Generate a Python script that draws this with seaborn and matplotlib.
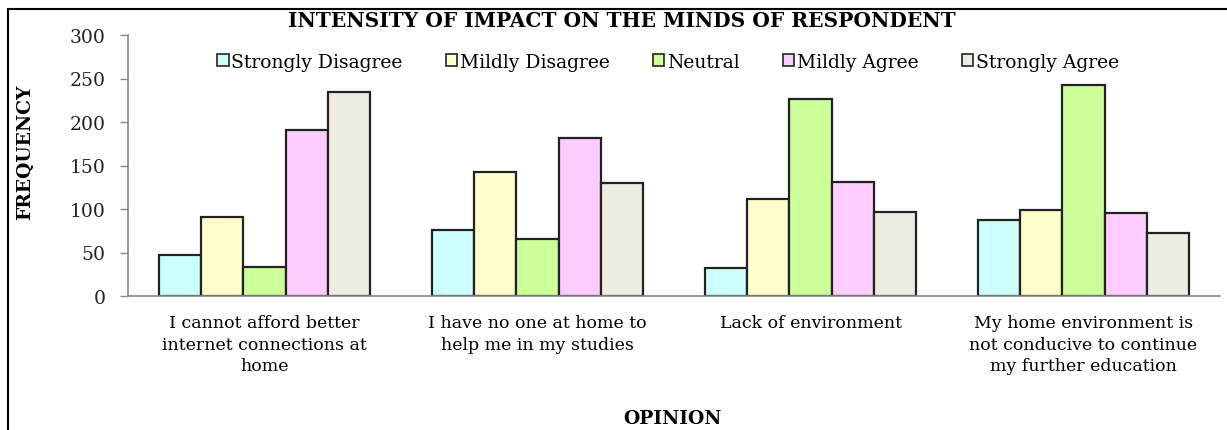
import matplotlib
matplotlib.use("Agg")
import matplotlib.pyplot as plt
import seaborn as sns
import pandas as pd
from matplotlib.patches import Rectangle

categories = [
    "I cannot afford better\ninternet connections at\nhome",
    "I have no one at home to\nhelp me in my studies",
    "Lack of environment",
    "My home environment is\nnot conducive to continue\nmy further education",
]
series_names = ["Strongly Disagree", "Mildly Disagree", "Neutral", "Mildly Agree", "Strongly Agree"]
strongly_disagree = [47, 76, 32, 87]
mildly_disagree = [91, 142, 112, 99]
neutral = [33, 66, 227, 242]
mildly_agree = [191, 182, 131, 95]
strongly_agree = [235, 130, 97, 72]
y_ticks = [0, 50, 100, 150, 200, 250, 300]
colors = ["#CCFFFF", "#FFFFCC", "#CCFF99", "#FFCCFF", "#EEECE1"]

series_values = [strongly_disagree, mildly_disagree, neutral, mildly_agree, strongly_agree]
rows = []
for name, vals in zip(series_names, series_values):
    for cat, v in zip(categories, vals):
        rows.append({"Opinion": cat, "Response": name, "Frequency": v})
df = pd.DataFrame(rows)

sns.set_style("white")
plt.rcParams["font.family"] = ["DejaVu Serif"]
plt.rcParams["text.color"] = "black"
plt.rcParams["axes.labelcolor"] = "black"
plt.rcParams["xtick.labelcolor"] = "black"
plt.rcParams["ytick.labelcolor"] = "black"

fig = plt.figure(figsize=(12.27, 4.31), dpi=100)
ax = fig.add_axes([128 / 1227, 134 / 431, 1092 / 1227, 261 / 431])

sns.barplot(data=df, x="Opinion", y="Frequency", hue="Response", order=categories,
            hue_order=series_names, palette=colors, edgecolor="#222222", linewidth=1.6,
            width=0.77, saturation=1, ax=ax)

ax.set_ylim(0, 300)
ax.set_yticks(y_ticks)
ax.set_xlim(-0.5, len(categories) - 0.5)
ax.set_xticks([i - 0.5 for i in range(len(categories) + 1)], minor=True)
ax.set_xticks(range(len(categories)))
ax.set_xticklabels(categories, fontsize=12.5, linespacing=1.35)
ax.tick_params(axis="x", which="major", length=0, pad=13, labelcolor="black")
ax.tick_params(axis="x", which="minor", length=6, color="#888888", width=1, direction="out")
ax.tick_params(axis="y", length=6, color="#888888", width=1, direction="out", labelsize=13.5,
               left=True, pad=10, labelcolor="#222222")
for s in ["top", "right"]:
    ax.spines[s].set_visible(False)
for s in ["left", "bottom"]:
    ax.spines[s].set_color("#888888")
    ax.spines[s].set_linewidth(1.2)

ax.set_ylabel("FREQUENCY", fontsize=13.5, fontweight="bold", va="center", color="black")
ax.set_xlabel("OPINION", fontsize=13.5, fontweight="bold", va="center", color="black")
ax.xaxis.set_label_coords((672 - 128) / 1092, -(418 - 296) / 261, transform=ax.transAxes)
ax.yaxis.set_label_coords(-(128 - 25) / 1092, (296 - 151) / 261)

leg = ax.legend(loc="center", bbox_to_anchor=((668 - 128) / 1092, (296 - 62) / 261), ncol=5,
                frameon=False, fontsize=13.5, handlelength=0.6, handleheight=0.6,
                handletextpad=0.15, columnspacing=2.3, borderaxespad=0)
for h in leg.legend_handles:
    h.set_linewidth(1.2)
for t in leg.get_texts():
    t.set_color("black")

fig.text(622 / 1227, 1 - 21 / 431, "INTENSITY OF IMPACT ON THE MINDS OF RESPONDENT", ha="center",
         va="center", fontsize=14.5, fontweight="bold", color="black")

fig.patches.append(Rectangle((8 / 1227, -0.01), 1.0, 1 - 10 / 431 + 0.01, transform=fig.transFigure,
                             fill=False, edgecolor="black", linewidth=1.5))

fig.savefig("out.png", dpi=100)
